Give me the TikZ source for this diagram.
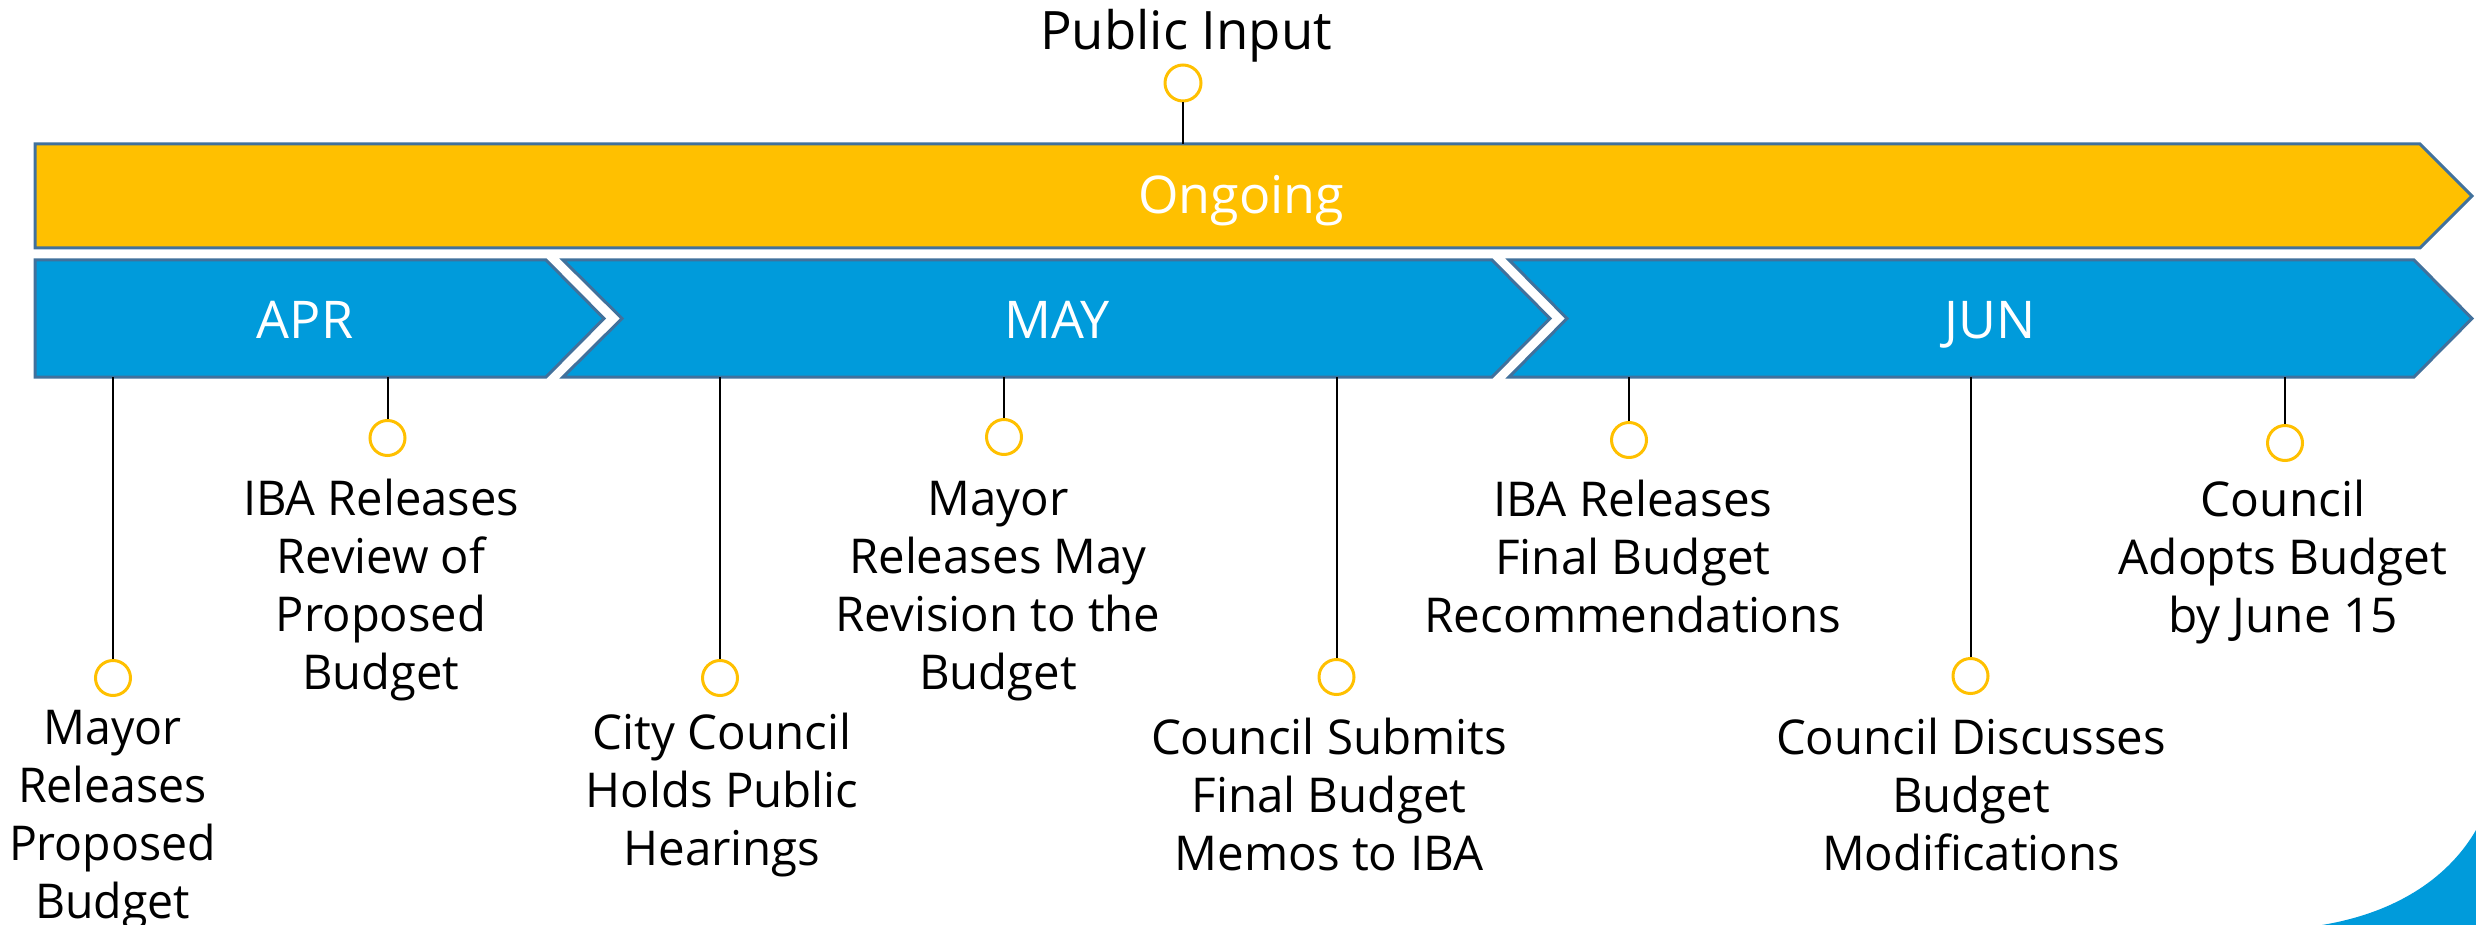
\documentclass[tikz,border=0pt]{standalone}
\usepackage{fontspec}
\usepackage{graphicx}
\setmainfont{Open Sans}
\definecolor{gold}{HTML}{FFC000}
\definecolor{sky}{HTML}{009BDB}
\definecolor{edge}{HTML}{41719C}
\newlength\fitlen
\newcommand\fitlbl[3]{\settowidth{\fitlen}{#2}\pgfmathsetmacro\fitr{#1/\fitlen}\scalebox{\fitr}[1]{\begin{tabular}[t]{@{}c@{}}#3\end{tabular}}}
\newcommand\lblfont{\fontsize{48}{58}\selectfont}
\newcommand\bigfont{\fontsize{52}{62}\selectfont}
\tikzset{
  barshape/.style={draw=edge, line width=3pt, line join=miter},
  dot/.style={circle, draw=gold, line width=3pt, fill=white, minimum size=35pt, inner sep=0pt},
  stem/.style={draw=black, line width=2pt},
  lbl/.style={anchor=base, inner sep=0pt, font=\lblfont, text=black},
  barlbl/.style={anchor=base, inner sep=0pt, font=\bigfont, text=white},
}
\begin{document}
\begin{tikzpicture}[x=1pt,y=-1pt]
\useasboundingbox (0,0) rectangle (2476,925);
% corner decoration
\fill[sky] (2476,830) .. controls (2450,875) and (2400,912) .. (2322,925) -- (2476,925) -- cycle;
% ongoing bar
\draw[barshape, fill=gold] (35,144) -- (2420,144) -- (2472,196) -- (2420,248) -- (35,248) -- cycle;
\node[barlbl] (ong) at (1241,214) {Ongoing};
% month chevrons
\draw[barshape, fill=sky] (35,260) -- (546,260) -- (604,318.5) -- (546,377) -- (35,377) -- cycle;
\draw[barshape, fill=sky] (563,260) -- (1492,260) -- (1550,318.5) -- (1492,377) -- (563,377) -- (622,318.5) -- cycle;
\draw[barshape, fill=sky] (1509,260) -- (2414,260) -- (2472,318.5) -- (2414,377) -- (1509,377) -- (1567,318.5) -- cycle;
\node[barlbl] (apr) at (305,338) {APR};
\node[barlbl] (may) at (1057,338) {MAY};
\node[barlbl] (jun) at (1990,338) {JUN};
\coordinate (bartop) at (0,144);
\coordinate (barbot) at (0,377);
% public input
\node[dot, minimum size=36pt] (cp) at (1183,83) {};
\draw[stem] (cp.south) -- (cp.south |- bartop);
\node[anchor=base, inner sep=0pt, font=\fontsize{53}{63}\selectfont] (pi) at (1186,50) {\fitlbl{292}{Public Input}{Public Input}};
% milestones
\node[dot] (c1) at (113,678) {};
\node[dot] (c2) at (387.5,438) {};
\node[dot] (c3) at (720,678) {};
\node[dot] (c4) at (1004,437) {};
\node[dot] (c5) at (1336.5,677) {};
\node[dot] (c6) at (1629,440) {};
\node[dot] (c7) at (1970.5,676) {};
\node[dot] (c8) at (2285,443) {};
\foreach \c in {c1,c2,c3,c4,c5,c6,c7,c8}{
  \draw[stem] (\c.north) -- (\c.north |- barbot);
}
\node[lbl] (l1) at (112.5,744) {\fitlbl{207}{Proposed}{Mayor\\Releases\\Proposed\\Budget}};
\node[lbl] (l2) at (381,515) {\fitlbl{276}{IBA Releases}{IBA Releases\\Review of\\Proposed\\Budget}};
\node[lbl] (l3) at (722,749) {\fitlbl{273}{Holds Public}{City Council\\Holds Public\\Hearings}};
\node[lbl] (l4) at (998,515) {\fitlbl{325}{Revision to the}{Mayor\\Releases May\\Revision to the\\Budget}};
\node[lbl] (l5) at (1329,754) {\fitlbl{356}{Council Submits}{Council Submits\\Final Budget\\Memos to IBA}};
\node[lbl] (l6) at (1633,516) {\fitlbl{417}{Recommendations}{IBA Releases\\Final Budget\\Recommendations}};
\node[lbl] (l7) at (1971,754) {\fitlbl{390}{Council Discusses}{Council Discusses\\Budget\\Modifications}};
\node[lbl] (l8) at (2283,516) {\fitlbl{329}{Adopts Budget}{Council\\Adopts Budget\\by June 15}};
\end{tikzpicture}
\end{document}
